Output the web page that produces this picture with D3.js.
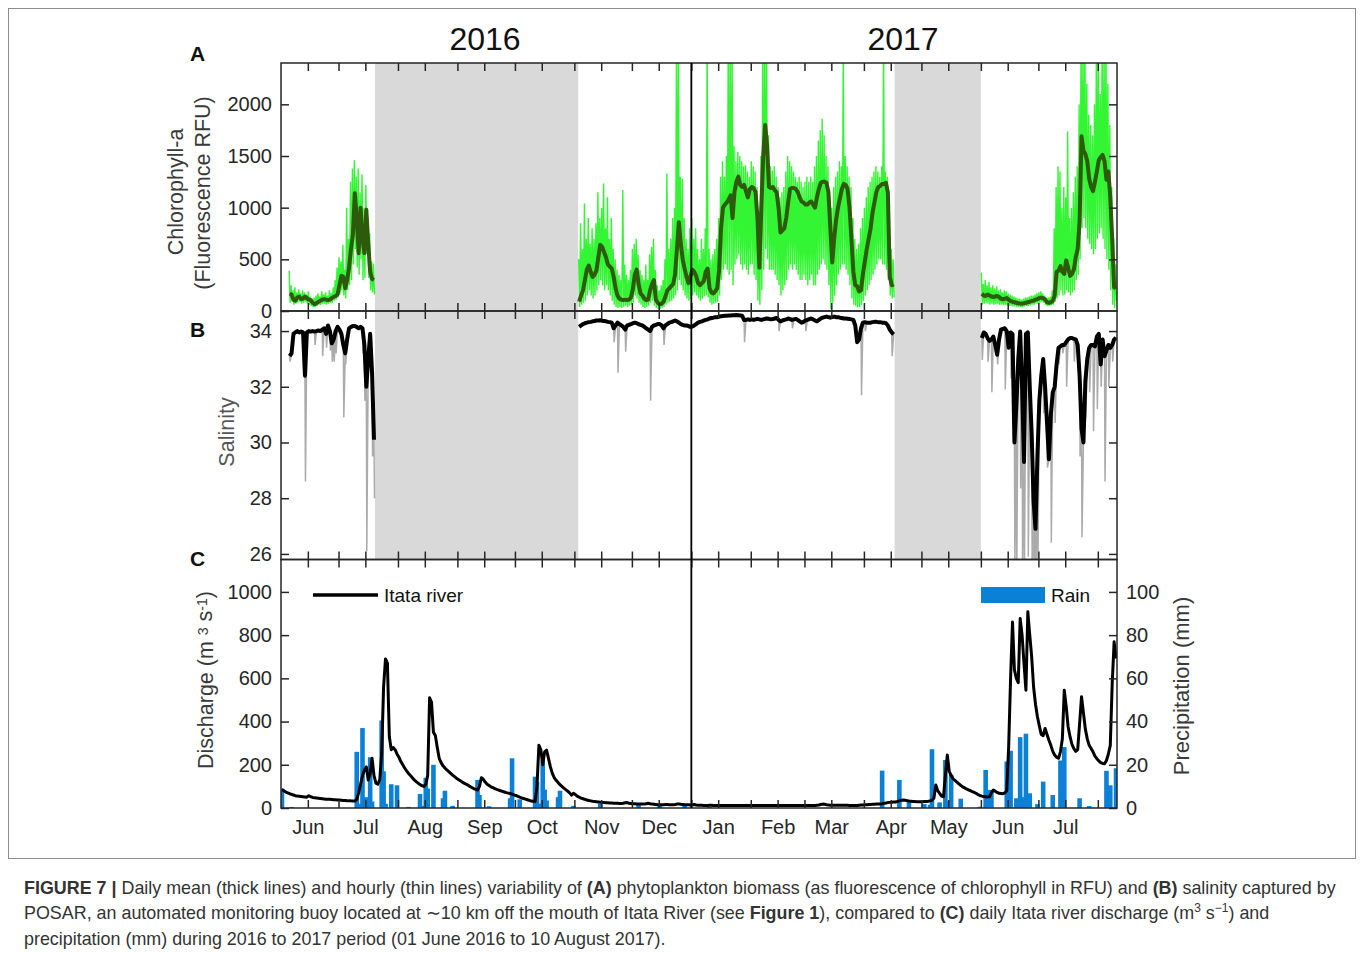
<!DOCTYPE html>
<html lang="en">
<head>
<meta charset="UTF-8">
<title>POSAR chlorophyll, salinity and Itata discharge</title>
<style>
  body { margin: 0; background: #fff; }
  svg { display: block; font-family: "Liberation Sans", Arial, sans-serif; }
</style>
</head>
<body>
<svg id="chart" width="1360" height="953"></svg>
<script src="https://cdn.jsdelivr.net/npm/d3@7/dist/d3.min.js"></script>
<script>
// ---- data ----
// daily values start on these dates, one value per day
const segStart = ["2016-06-05", "2016-11-03", "2017-06-01"];

// chlorophyll-a daily mean (RFU)
const chlMean1 = [170,160,110,100,130,140,115,120,140,125,110,105,80,65,75,90,100,110,115,110,
  105,110,125,135,145,160,250,340,330,220,300,420,600,740,1140,900,560,1000,700,560,980,650,380,310,300];
const chlMean2 = [90,150,200,300,400,440,380,330,350,390, 520,640,620,570,520,450,430,410,330,220,
  150,120,110,105,110,105,110,130,210,350, 400,260,170,150,120,105,110,200,260,300,
  110,80,65,70,90,140,200,220,240,260, 350,600,860,650,500,410,330,270,330,400,
  380,340,270,250,270,290,380,410,220,180, 170,190,220,400,800,1000,1030,1050,1080,1120,
  900,1150,1250,1300,1220,1200,1220,1160,1100,1180, 1200,1190,1150,900,420,1000,1500,1800,1600,1200,
  1190,1200,1170,1150,1000,760,780,800,900,1050, 1180,1190,1190,1180,1150,1100,1060,1050,1030,1030,
  1050,1060,1030,1000,1100,1180,1240,1250,1250,1240, 1150,800,470,700,880,1000,1090,1180,1230,1220,
  1180,1000,700,380,250,240,190,200,360,480, 600,700,800,950,1050,1150,1200,1210,1230,1230,
  1240,1150,330,250,260];
const chlMean3 = [167,150,145,160,150,140,135,140,145,135, 120,113,120,125,110,96,90,85,80,75,
  72,71,75,80,85,90,96,100,110,115, 125,130,125,110,85,80,85,96,150,380,
  390,434,380,360,490,420,340,360,400,520, 600,870,1690,1550,1520,1450,1280,1200,1160,1250,
  1350,1460,1490,1510,1450,1270,1350,1100,700,230, 220];

// hourly chlorophyll: highest and lowest reading of each day
const chlHourMax1 = [390,250,200,230,180,210,170,200,180,160,190,140,120,130,150,170,140,190,160,180,
  150,200,170,230,300,420,520,480,640,400,1000,700,1250,1380,1460,1300,1380,1150,1320,1000,1220,900,750,480,460];
const chlHourMin1 = [80,90,60,70,80,90,70,80,90,70,60,50,40,40,50,60,60,70,70,60,
  70,80,80,100,110,130,160,200,150,120,200,250,300,450,600,420,350,500,300,320,550,320,200,180,160];
const chlHourMax2 = [500,850,600,1040,700,900,650,800,700,850, 1150,900,1000,1233,800,1100,700,900,600,500,
  400,350,300,1170,450,350,300,400,600,650, 700,550,400,350,300,450,300,550,620,700,
  400,250,200,250,300,500,1330,600,700,900, 1000,2600,2600,1300,1280,900,700,600,800,900,
  700,800,600,500,700,600,800,2600,600,500, 550,600,700,900,1300,1450,1300,1500,2600,2600,
  2600,1600,1450,1540,1500,1450,1400,1410,1350,1300, 1450,1400,1350,1200,900,1500,2600,2600,2600,1700,
  1400,1360,1400,1300,1200,1100,1150,1200,1350,1500, 1450,1400,1350,1300,1250,1300,1250,1200,1250,1300,
  1250,1300,1250,1400,1500,1650,1750,1860,1700,1500, 1400,1100,1000,1200,1300,1350,1450,1400,2600,1500,
  1400,1300,1200,900,700,600,650,800,900,1000, 1100,1200,1250,1300,1350,1400,1350,1300,1400,2600,
  1350,1300,700,600,500];
const chlHourMin2 = [40,60,80,100,150,200,150,120,150,200, 250,300,250,200,250,200,150,100,60,40,
  30,40,30,40,50,40,50,60,80,150, 120,80,60,40,30,40,50,80,100,50,
  30,20,20,30,40,60,80,90,100,120, 150,200,300,250,200,150,120,100,120,150,
  180,150,120,100,120,140,150,130,80,60, 70,80,90,150,300,400,450,400,350,400,
  250,450,500,550,450,400,450,400,350,450, 450,350,300,100,60,200,400,600,500,400,
  400,400,350,300,250,150,200,250,300,400, 450,400,450,400,350,300,300,350,300,250,
  300,350,250,250,350,400,450,500,450,400, 250,20,80,150,250,350,400,450,450,400,
  350,250,120,60,50,40,40,60,100,150, 200,250,300,350,400,450,500,500,450,450,
  400,300,150,120,130];
const chlHourMax3 = [370,260,300,250,280,230,250,220,240,200, 210,180,200,190,170,160,150,140,130,120,
  120,110,120,130,130,140,150,150,160,170, 180,190,170,150,130,130,140,200,800,1200,
  1400,1350,1000,1200,1100,1736,900,1000,1150,1300, 1400,2000,2600,2600,2600,2200,1900,1800,1700,2000,
  2600,2600,2100,2600,2600,2600,2200,1800,1200,700, 450];
const chlHourMin3 = [60,70,80,70,60,70,60,65,70,60, 60,55,60,55,50,50,45,45,40,40,
  40,40,45,50,50,55,60,60,70,70, 80,90,80,60,50,50,55,60,90,120,
  150,200,150,160,200,180,150,180,200,300, 350,500,800,900,800,700,650,600,550,600,
  700,750,800,700,600,500,400,200,60,30, 100];

// salinity daily mean
const salMean1 = [33.1,33.2,33.9,33.95,34.0,33.95,33.98,33.95,32.4,33.95,34.0,33.98,34.0,33.98,34.0,34.02,34.0,34.05,34.1,33.9,
  34.2,34.0,33.56,33.7,34.0,34.15,34.05,33.9,33.5,33.2,33.7,34.1,34.15,34.18,34.18,34.15,34.1,34.15,34.1,33.5,
  32.0,33.0,33.9,32.5,30.1];
const salMean2 = [34.15,34.2,34.25,34.28,34.3,34.32,34.33,34.35,34.36,34.38, 34.38,34.39,34.37,34.36,34.35,34.33,34.32,34.3,34.1,34.2,
  34.3,34.25,34.2,34.15,34.05,34.2,34.22,34.25,34.28,34.3, 34.28,34.25,34.22,34.2,34.15,34.1,34.05,34.0,34.15,34.2,
  34.22,34.25,34.25,34.2,34.1,34.2,34.25,34.3,34.32,34.35, 34.38,34.35,34.3,34.25,34.22,34.2,34.2,34.18,34.15,34.16,
  34.2,34.25,34.3,34.33,34.35,34.38,34.4,34.42,34.45,34.47, 34.48,34.5,34.5,34.52,34.53,34.54,34.55,34.55,34.56,34.56,
  34.57,34.57,34.58,34.57,34.56,34.55,34.4,34.4,34.42,34.4, 34.42,34.4,34.42,34.44,34.42,34.4,34.42,34.44,34.45,34.44,
  34.42,34.43,34.45,34.47,34.4,34.35,34.38,34.4,34.42,34.45, 34.43,34.4,34.42,34.44,34.4,34.35,34.3,34.33,34.38,34.4,
  34.43,34.45,34.42,34.38,34.35,34.4,34.45,34.48,34.5,34.52, 34.5,34.48,34.5,34.52,34.5,34.5,34.48,34.47,34.45,34.45,
  34.44,34.43,34.42,34.4,34.2,33.6,33.7,34.1,34.3,34.32, 34.3,34.3,34.3,34.32,34.33,34.33,34.32,34.32,34.3,34.3,
  34.28,34.2,34.05,33.95,33.88];
const salMean3 = [33.75,33.95,33.9,33.75,33.65,33.7,33.8,33.5,33.15,33.7, 34.05,34.08,34.1,34.0,33.4,33.95,33.9,30.0,31.3,33.0,
  33.98,32.0,29.3,33.9,33.95,32.0,30.3,27.9,26.9,29.5, 31.5,32.4,33.0,32.0,30.7,29.4,31.0,31.8,32.0,32.8,
  33.4,33.45,33.5,33.5,33.6,33.7,33.75,33.75,33.72,33.7, 33.5,32.4,30.5,30.0,32.2,33.0,33.4,33.5,33.5,33.45,
  33.8,33.9,32.8,33.7,33.1,33.3,33.5,33.4,33.5,33.7, 33.76];

// hourly salinity drops below the daily mean (date, lowest value)
const salDips = [["2016-06-05",32.9],["2016-06-13",28.6],["2016-06-18",33.5],["2016-06-22",33.1],["2016-06-24",33.4],
  ["2016-06-26",33.3],["2016-06-27",32.9],["2016-06-28",32.9],["2016-06-29",33.2],["2016-07-03",30.9],["2016-07-04",32.8],
  ["2016-07-13",33.2],["2016-07-14",31.5],["2016-07-15",26.1],["2016-07-18",29.5],["2016-07-19",28.0],
  ["2016-11-21",33.6],["2016-11-23",32.5],["2016-11-27",33.26],["2016-12-10",31.5],["2016-12-17",33.5],
  ["2017-01-28",33.6],["2017-02-15",34.0],["2017-02-22",34.1],["2017-03-01",34.0],["2017-03-30",31.7],
  ["2017-04-01",34.0],["2017-04-15",33.1],
  ["2017-06-01",32.96],["2017-06-04",32.9],["2017-06-06",31.8],["2017-06-09",32.8],["2017-06-13",31.9],["2017-06-16",32.3],
  ["2017-06-18",25.5],["2017-06-19",25.5],["2017-06-21",28.35],["2017-06-22",25.5],["2017-06-23",25.5],["2017-06-25",25.9],
  ["2017-06-27",25.5],["2017-06-28",25.5],["2017-06-29",25.5],["2017-06-30",25.5],["2017-07-03",31.05],["2017-07-05",29.1],
  ["2017-07-07",26.4],["2017-07-09",30.7],["2017-07-11",32.8],["2017-07-13",33.2],["2017-07-15",32.0],["2017-07-19",32.9],
  ["2017-07-22",29.5],["2017-07-23",26.6],["2017-07-25",30.9],["2017-07-27",31.8],["2017-07-29",30.4],["2017-07-31",31.2],
  ["2017-08-02",32.0],["2017-08-04",28.6],["2017-08-06",32.0],["2017-08-08",32.9]];

// Itata river daily discharge (m3/s)
const dischargeStart = ["2016-06-01", "2017-01-01"];
const discharge2016 = [85,80,74,70,66,63,60,57,55,54, 53,52,51,50,57,52,49,47,46,45, 44,43,42,41,40,40,39,38,38,37,
  37,36,35,35,34,33,33,32,32,40, 70,110,150,175,190,130,160,230,150,115, 110,130,250,560,690,670,330,270,280,270,
  250,235,215,200,185,172,160,150,140,130, 122,115,108,104,100,110,150,510,490,350, 335,280,230,210,195,185,176,168,160,152,
  145,138,132,126,120,115,110,106,100,95, 90,86,83,100,140,133,120,110,104,98, 94,90,86,83,80,77,74,71,69,67,
  64,61,58,54,50,47,44,41,38,35, 32,31,30,100,290,270,200,260,268,230, 190,160,140,128,118,108,100,92,85,78,
  70,60,68,62,55,50,46,43,40,37, 35,33,31,30,29,28,27,26,25,24, 24,23,23,22,22,22,21,21,22,24,
  25,22,21,20,20,19,19,18,18,18, 20,22,20,18,17,16,15,15,15,15, 16,16,15,15,15,16,18,19,17,16, 15,15,15,14];
const discharge2017 = [15,16,14,13,13,13,12,12,12,13, 13,12,12,12,12,12,12,12,12,12, 12,12,12,12,12,12,12,12,12,12,
  12,12,12,12,12,12,12,12,12,12, 12,12,12,12,12,12,12,12,12,12, 12,12,12,12,12,12,12,12,12,12,
  12,12,12,12,12,13,14,16,18,17, 15,14,13,13,13,13,13,13,13,13, 13,13,12,12,12,12,12,13,14,14,
  15,15,16,16,17,17,18,18,19,20, 22,23,25,26,27,28,28,30,33,36, 37,36,34,32,31,30,30,29,29,29,
  29,30,30,31,33,36,45,106,80,68, 55,52,150,245,170,150,135,128,120,112, 105,98,93,88,84,80,76,72,68,62,
  58,55,53,52,51,52,70,83,78,72, 68,67,66,70,80,284,600,861,640,600, 580,877,800,669,545,908,800,700,560,480,
  422,380,340,335,368,340,314,290,262,245, 235,230,260,320,545,470,376,330,295,275, 262,270,391,515,440,365,320,290,275,260,
  240,228,218,210,206,205,220,250,290,576, 769,692];

// daily rain (mm), days without rain left out
const rain = [["2016-06-01",9],["2016-06-06",0.5],["2016-07-10",26],["2016-07-11",2],["2016-07-13",37],["2016-07-14",3],
  ["2016-07-15",5],["2016-07-17",23.5],["2016-07-18",3],["2016-07-23",40.5],["2016-07-24",17],["2016-07-25",2],
  ["2016-07-28",11],["2016-07-31",10.5],["2016-08-06",0.5],["2016-08-12",6.5],["2016-08-13",1],["2016-08-15",14],
  ["2016-08-16",9],["2016-08-19",20],["2016-08-24",4.5],["2016-08-25",8],["2016-08-29",1],["2016-09-11",13],
  ["2016-09-12",6],["2016-09-17",0.8],["2016-09-28",4.5],["2016-09-29",23],["2016-10-03",4],["2016-10-11",14.5],
  ["2016-10-12",12],["2016-10-14",2],["2016-10-15",22],["2016-10-16",8.5],["2016-10-17",3.5],["2016-10-23",5],
  ["2016-10-24",8],["2016-10-31",1],["2016-11-14",2],["2016-12-04",2.2],["2016-12-15",1],["2016-12-28",1],
  ["2017-01-10",0.6],["2017-04-10",17.3],["2017-04-19",13],["2017-04-24",3.4],["2017-05-02",1.8],["2017-05-05",1.5],
  ["2017-05-06",27.2],["2017-05-10",2.6],["2017-05-13",22.2],["2017-05-14",3],["2017-05-16",15.4],["2017-05-21",4.3],
  ["2017-05-31",0.6],["2017-06-03",17.6],["2017-06-05",8.4],["2017-06-06",8.3],["2017-06-14",21.5],["2017-06-16",26.5],
  ["2017-06-19",4.5],["2017-06-21",32.8],["2017-06-22",5],["2017-06-24",34.4],["2017-06-26",6.8],["2017-06-30",1.8],
  ["2017-07-03",12.2],["2017-07-08",6],["2017-07-12",22],["2017-07-14",28.2],["2017-07-22",4.5],["2017-07-27",0.9],
  ["2017-08-05",17.2],["2017-08-07",10.5],["2017-08-10",18.4]];

// buoy out of the water
const gaps = [["2016-07-20", "2016-11-03"], ["2017-04-17", "2017-06-01"]];
const monthLabels = ["Jun","Jul","Aug","Sep","Oct","Nov","Dec","Jan","Feb","Mar","Apr","May","Jun","Jul"];

// ---- layout ----
const parse = d3.utcParse("%Y-%m-%d");
const svg = d3.select("#chart");
const left = 281, right = 1117;
const pA = [63, 311], pB = [311, 559.5], pC = [559.5, 808];
const axisColor = "#262626";
const tStart = parse("2016-06-01"), tEnd = parse("2017-08-11");

const x = d3.scaleUtc().domain([tStart, tEnd]).range([left, right]);
const yA = d3.scaleLinear().domain([0, 2400]).range([pA[1], pA[0]]);
const yB = d3.scaleLinear().domain([25.8, 34.72]).range([pB[1], pB[0]]);
const yC = d3.scaleLinear().domain([0, 1150]).range([pC[1], pC[0]]);
const yP = d3.scaleLinear().domain([0, 115]).range([pC[1], pC[0]]);

// outer frame of the figure
svg.append("rect").attr("x", 8.5).attr("y", 8.5).attr("width", 1347).attr("height", 850)
  .attr("fill", "none").attr("stroke", "#8c8c8c").attr("stroke-width", 1);

// clip paths per panel
[["clipA", pA], ["clipB", pB], ["clipC", pC]].forEach(([id, p]) => {
  svg.append("clipPath").attr("id", id).append("rect")
    .attr("x", left).attr("y", p[0]).attr("width", right - left).attr("height", p[1] - p[0]);
});

// gray periods in A and B
gaps.forEach(g => {
  svg.append("rect").attr("x", x(parse(g[0]))).attr("y", pA[0])
    .attr("width", x(parse(g[1])) - x(parse(g[0]))).attr("height", pB[1] - pA[0])
    .attr("fill", "#d9d9d9");
});

function daily(start, values) {
  const s = parse(start);
  return values.map((v, i) => ({ t: d3.utcHour.offset(d3.utcDay.offset(s, i), 12), v }));
}
function zigzag(start, hi, lo) {
  const s = parse(start), pts = [];
  hi.forEach((h, i) => {
    const d = d3.utcDay.offset(s, i);
    pts.push({ t: d3.utcHour.offset(d, 6), v: h });
    pts.push({ t: d3.utcHour.offset(d, 18), v: lo[i] });
  });
  return pts;
}

// ---- panel A: chlorophyll ----
const lineA = d3.line().x(d => x(d.t)).y(d => yA(d.v));
const gA = svg.append("g").attr("clip-path", "url(#clipA)");
const chlMax = [chlHourMax1, chlHourMax2, chlHourMax3];
const chlMin = [chlHourMin1, chlHourMin2, chlHourMin3];
const chlMean = [chlMean1, chlMean2, chlMean3];
segStart.forEach((s, k) => {
  gA.append("path").datum(zigzag(s, chlMax[k], chlMin[k])).attr("d", lineA)
    .attr("fill", "none").attr("stroke", "#33f533").attr("stroke-width", 1.4);
});
segStart.forEach((s, k) => {
  gA.append("path").datum(daily(s, chlMean[k])).attr("d", lineA)
    .attr("fill", "none").attr("stroke", "#2e5a0c").attr("stroke-width", 4)
    .attr("stroke-linejoin", "round");
});

// ---- panel B: salinity ----
const lineB = d3.line().x(d => x(d.t)).y(d => yB(d.v));
const gB = svg.append("g").attr("clip-path", "url(#clipB)");
const salMean = [salMean1, salMean2, salMean3];
segStart.forEach((s, k) => {
  const pts = daily(s, salMean[k]);
  const t0 = parse(s), t1 = d3.utcDay.offset(t0, salMean[k].length);
  salDips.forEach(([d, v]) => {
    const t = parse(d);
    if (t >= t0 && t < t1) pts.push({ t: d3.utcHour.offset(t, 18), v });
  });
  pts.sort((a, b) => a.t - b.t);
  gB.append("path").datum(pts).attr("d", lineB)
    .attr("fill", "none").attr("stroke", "#ababab").attr("stroke-width", 1.5);
});
segStart.forEach((s, k) => {
  gB.append("path").datum(daily(s, salMean[k])).attr("d", lineB)
    .attr("fill", "none").attr("stroke", "#000").attr("stroke-width", 4)
    .attr("stroke-linejoin", "round");
});

// ---- panel C: rain and discharge ----
const gC = svg.append("g").attr("clip-path", "url(#clipC)");
gC.selectAll("rect.rain").data(rain).join("rect").attr("class", "rain")
  .attr("x", d => x(d3.utcHour.offset(parse(d[0]), 12)) - 2.3)
  .attr("width", 4.6)
  .attr("y", d => yP(d[1]))
  .attr("height", d => yP(0) - yP(d[1]))
  .attr("fill", "#0a80d6");
const lineC = d3.line().x(d => x(d.t)).y(d => yC(d.v));
gC.append("path").datum(daily(dischargeStart[0], discharge2016).concat(daily(dischargeStart[1], discharge2017)))
  .attr("d", lineC).attr("fill", "none").attr("stroke", "#000").attr("stroke-width", 3)
  .attr("stroke-linejoin", "round");

// ---- axes ----
// ticks on the 1st and 15th of every month, labels on the 15th
const xTicks = [];
for (let m = tStart; m < tEnd; m = d3.utcMonth.offset(m, 1)) {
  if (m > tStart) xTicks.push(m);
  const mid = d3.utcDay.offset(m, 14);
  if (mid < tEnd) xTicks.push(mid);
}
const midMonths = xTicks.filter(d => d.getUTCDate() === 15);
const plain = d3.format("d");

function styleAxis(g) {
  g.select(".domain").remove();
  g.selectAll("line").attr("stroke", axisColor).attr("stroke-width", 1.5);
  g.selectAll("text").attr("fill", axisColor).attr("font-size", 20)
    .attr("font-family", "'Liberation Sans', Arial, sans-serif");
}
[pA, pB, pC].forEach(p => {
  svg.append("g").attr("transform", `translate(0,${p[0]})`)
    .call(d3.axisTop(x).tickValues(xTicks).tickSize(-8).tickFormat("")).call(styleAxis);
  svg.append("g").attr("transform", `translate(0,${p[1]})`)
    .call(d3.axisBottom(x).tickValues(xTicks).tickSize(-8).tickFormat("")).call(styleAxis);
});
svg.append("g").attr("transform", `translate(0,${pC[1]})`)
  .call(d3.axisBottom(x).tickValues(midMonths).tickSize(0).tickPadding(12)
    .tickFormat((d, i) => monthLabels[i])).call(styleAxis);

svg.append("g").attr("transform", `translate(${left},0)`)
  .call(d3.axisLeft(yA).tickValues([0, 500, 1000, 1500, 2000]).tickSize(-8).tickPadding(9).tickFormat(plain)).call(styleAxis);
svg.append("g").attr("transform", `translate(${right},0)`)
  .call(d3.axisRight(yA).tickValues([500, 1000, 1500, 2000]).tickSize(-8).tickFormat("")).call(styleAxis);
svg.append("g").attr("transform", `translate(${left},0)`)
  .call(d3.axisLeft(yB).tickValues([26, 28, 30, 32, 34]).tickSize(-8).tickPadding(9).tickFormat(plain)).call(styleAxis);
svg.append("g").attr("transform", `translate(${right},0)`)
  .call(d3.axisRight(yB).tickValues([26, 28, 30, 32, 34]).tickSize(-8).tickFormat("")).call(styleAxis);
svg.append("g").attr("transform", `translate(${left},0)`)
  .call(d3.axisLeft(yC).tickValues([0, 200, 400, 600, 800, 1000]).tickSize(-8).tickPadding(9).tickFormat(plain)).call(styleAxis);
svg.append("g").attr("transform", `translate(${right},0)`)
  .call(d3.axisRight(yP).tickValues([0, 20, 40, 60, 80, 100]).tickSize(-8).tickPadding(9).tickFormat(plain)).call(styleAxis);

// panel frames and the year line
[pA, pB, pC].forEach(p => {
  svg.append("rect").attr("x", left).attr("y", p[0]).attr("width", right - left).attr("height", p[1] - p[0])
    .attr("fill", "none").attr("stroke", axisColor).attr("stroke-width", 1.5);
});
svg.append("line").attr("x1", x(parse("2017-01-01"))).attr("x2", x(parse("2017-01-01")))
  .attr("y1", pA[0]).attr("y2", pC[1]).attr("stroke", "#000").attr("stroke-width", 1.8);

// ---- text ----
svg.append("text").attr("x", 485).attr("y", 50).attr("text-anchor", "middle")
  .attr("font-size", 32).attr("fill", "#111").text("2016");
svg.append("text").attr("x", 903).attr("y", 50).attr("text-anchor", "middle")
  .attr("font-size", 32).attr("fill", "#111").text("2017");
[["A", 61], ["B", 337], ["C", 566]].forEach(([t, yy]) => {
  svg.append("text").attr("x", 190).attr("y", yy).attr("font-size", 21).attr("font-weight", "bold")
    .attr("fill", "#111").text(t);
});

function vTitle(cx, cy, size, color) {
  return svg.append("text").attr("transform", `translate(${cx},${cy}) rotate(-90)`)
    .attr("text-anchor", "middle").attr("dy", "0.35em").attr("font-size", size).attr("fill", color);
}
vTitle(175, 192, 21.5, "#3a3a3a").text("Chlorophyll-a");
vTitle(202, 193, 21.5, "#3a3a3a").text("(Fluorescence RFU)");
vTitle(226, 432, 21.5, "#555").text("Salinity");
const dt = vTitle(205, 680, 21.5, "#3a3a3a");
dt.append("tspan").text("Discharge (m ");
dt.append("tspan").attr("font-size", 14).attr("dy", "-0.35em").text("3");
dt.append("tspan").attr("dy", "0.22em").text(" s");
dt.append("tspan").attr("font-size", 14).attr("dy", "-0.35em").text("-1");
dt.append("tspan").attr("dy", "0.22em").text(")");
vTitle(1181, 686, 22, "#3a3a3a").text("Precipitation (mm)");

// legends
svg.append("line").attr("x1", 313).attr("x2", 378).attr("y1", 595).attr("y2", 595)
  .attr("stroke", "#000").attr("stroke-width", 3.5);
svg.append("text").attr("x", 384).attr("y", 601.5).attr("font-size", 19).attr("fill", "#111").text("Itata river");
svg.append("rect").attr("x", 981).attr("y", 587).attr("width", 64).attr("height", 16).attr("fill", "#0a80d6");
svg.append("text").attr("x", 1051).attr("y", 601.5).attr("font-size", 19).attr("fill", "#111").text("Rain");

// caption
const cap = svg.append("g").attr("font-size", 17.9).attr("fill", "#333");
const l1 = cap.append("text").attr("x", 24).attr("y", 894);
l1.append("tspan").attr("font-weight", "bold").text("FIGURE 7 | ");
l1.append("tspan").text("Daily mean (thick lines) and hourly (thin lines) variability of ");
l1.append("tspan").attr("font-weight", "bold").text("(A)");
l1.append("tspan").text(" phytoplankton biomass (as fluorescence of chlorophyll in RFU) and ");
l1.append("tspan").attr("font-weight", "bold").text("(B)");
l1.append("tspan").text(" salinity captured by");
const l2 = cap.append("text").attr("x", 24).attr("y", 919);
l2.append("tspan").text("POSAR, an automated monitoring buoy located at \u223C10 km off the mouth of Itata River (see ");
l2.append("tspan").attr("font-weight", "bold").text("Figure 1");
l2.append("tspan").text("), compared to ");
l2.append("tspan").attr("font-weight", "bold").text("(C)");
l2.append("tspan").text(" daily Itata river discharge (m");
l2.append("tspan").attr("font-size", 12).attr("dy", -7).text("3");
l2.append("tspan").attr("dy", 7).text(" s");
l2.append("tspan").attr("font-size", 12).attr("dy", -7).text("\u22121");
l2.append("tspan").attr("dy", 7).text(") and");
cap.append("text").attr("x", 24).attr("y", 945)
  .text("precipitation (mm) during 2016 to 2017 period (01 June 2016 to 10 August 2017).");
</script>
</body>
</html>
